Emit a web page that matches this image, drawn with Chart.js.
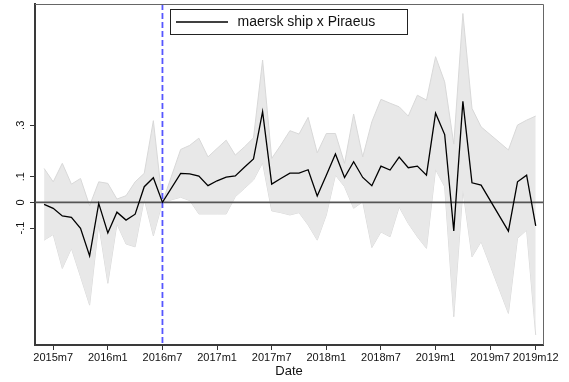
<!DOCTYPE html>
<html lang="en">

<head>
  <meta charset="UTF-8">
  <title>maersk ship x Piraeus</title>
  <script src="https://cdn.jsdelivr.net/npm/chart.js"></script>
  <style>
    * {
      margin: 0;
      padding: 0;
      box-sizing: border-box;
    }

    body {
      background: #fff;
    }

    canvas {
      display: block;
    }
  </style>
</head>

<body>
  <canvas id="eventChart" width="569" height="382"></canvas>

  <script>
    // Monthly coefficients with 95% CI (2016m7 is the reference month)
    const months = [
      '2015m6', '2015m7', '2015m8', '2015m9', '2015m10', '2015m11', '2015m12',
      '2016m1', '2016m2', '2016m3', '2016m4', '2016m5', '2016m6', '2016m7',
      '2016m9', '2016m10', '2016m11', '2016m12',
      '2017m1', '2017m2', '2017m3', '2017m4', '2017m5', '2017m6', '2017m7',
      '2017m8', '2017m9', '2017m10', '2017m11', '2017m12',
      '2018m1', '2018m2', '2018m3', '2018m4', '2018m5', '2018m6', '2018m7',
      '2018m8', '2018m9', '2018m10', '2018m11', '2018m12',
      '2019m1', '2019m2', '2019m3', '2019m4', '2019m5', '2019m6',
      '2019m9', '2019m10', '2019m11', '2019m12'
    ];
    const coef = [
      -0.008, -0.023, -0.053, -0.058, -0.101, -0.208, -0.004,
      -0.119, -0.038, -0.069, -0.046, 0.061, 0.096, 0,
      0.113, 0.111, 0.102, 0.065,
      0.084, 0.098, 0.103, 0.137, 0.169, 0.353, 0.071,
      0.093, 0.114, 0.114, 0.127, 0.025,
      0.106, 0.188, 0.097, 0.158, 0.097, 0.065, 0.141,
      0.126, 0.176, 0.135, 0.141, 0.106,
      0.347, 0.264, -0.111, 0.393, 0.076, 0.067,
      -0.112, 0.080, 0.106, -0.091
    ];
    const ciHigh = [
      0.132, 0.080, 0.152, 0.071, 0.093, -0.013, 0.080,
      0.074, 0.013, 0.026, 0.080, 0.113, 0.318, 0,
      0.206, 0.222, 0.250, 0.177,
      0.210, 0.242, 0.184, 0.216, 0.251, 0.554, 0.171,
      0.223, 0.279, 0.266, 0.331, 0.193,
      0.268, 0.268, 0.152, 0.344, 0.177, 0.314, 0.401,
      0.386, 0.372, 0.336, 0.417, 0.398,
      0.567, 0.469, 0.227, 0.735, 0.366, 0.294,
      0.204, 0.301, 0.320, 0.336
    ];
    const ciLow = [
      -0.147, -0.125, -0.257, -0.179, -0.289, -0.400, -0.084,
      -0.315, -0.084, -0.162, -0.173, 0.013, -0.130, 0,
      0.020, 0.007, -0.045, -0.045,
      -0.045, -0.045, 0.022, 0.054, 0.087, 0.154, -0.033,
      -0.040, -0.049, -0.040, -0.088, -0.147,
      -0.049, 0.106, 0.061, -0.023, 0.002, -0.176, -0.115,
      -0.134, -0.018, -0.082, -0.134, -0.179,
      0.128, 0.061, -0.445, 0.048, -0.212, -0.153,
      -0.432, -0.140, -0.108, -0.516
    ];
    const tickLabels = ['2015m7', '2016m1', '2016m7', '2017m1', '2017m7', '2018m1',
      '2018m7', '2019m1', '2019m7', '2019m12'];
    const yTicks = [-0.1, 0, 0.1, 0.3];
    const yTickLabels = ['-.1', '0', '.1', '.3'];
    const eventMonth = '2016m7';

    // months since 2015m1
    function monthIndex(label) {
      const [y, m] = label.split('m').map(Number);
      return (y - 2015) * 12 + (m - 1);
    }

    const xs = months.map(monthIndex);
    const toPoints = arr => arr.map((v, i) => ({ x: xs[i], y: v }));

    const FONT = "'Liberation Sans', Arial, sans-serif";

    // zero line, event line, frame, rotated y labels and legend box
    const decorations = {
      id: 'decorations',
      beforeDatasetDraw(chart, args) {
        if (args.index !== 0) return;
        const { ctx, chartArea, scales } = chart;
        const y0 = scales.y.getPixelForValue(0);
        ctx.save();
        ctx.strokeStyle = '#555';
        ctx.lineWidth = 1.6;
        ctx.beginPath();
        ctx.moveTo(chartArea.left, y0);
        ctx.lineTo(chartArea.right, y0);
        ctx.stroke();

        const xe = scales.x.getPixelForValue(monthIndex(eventMonth));
        ctx.strokeStyle = '#5656ff';
        ctx.lineWidth = 1.8;
        ctx.setLineDash([6, 3]);
        ctx.beginPath();
        ctx.moveTo(xe, chartArea.top);
        ctx.lineTo(xe, chartArea.bottom);
        ctx.stroke();
        ctx.restore();
      },
      afterDraw(chart) {
        const { ctx, chartArea, scales } = chart;
        ctx.save();
        // top and right outline of the plot region
        ctx.strokeStyle = '#666';
        ctx.lineWidth = 1;
        ctx.beginPath();
        ctx.moveTo(chartArea.left, chartArea.top + 0.5);
        ctx.lineTo(chartArea.right + 0.5, chartArea.top + 0.5);
        ctx.lineTo(chartArea.right + 0.5, chartArea.bottom);
        ctx.stroke();

        // y tick labels, rotated like Stata
        ctx.fillStyle = '#111';
        ctx.font = '11px ' + FONT;
        ctx.textAlign = 'center';
        ctx.textBaseline = 'middle';
        yTicks.forEach((v, i) => {
          const y = scales.y.getPixelForValue(v);
          ctx.save();
          ctx.translate(20.5, y);
          ctx.rotate(-Math.PI / 2);
          ctx.fillText(yTickLabels[i], 0, 0);
          ctx.restore();
        });

        // legend
        ctx.fillStyle = '#fff';
        ctx.fillRect(171, 9, 237, 25);
        ctx.strokeStyle = '#222';
        ctx.lineWidth = 1;
        ctx.strokeRect(170.5, 9.5, 237, 25);
        ctx.strokeStyle = '#000';
        ctx.lineWidth = 1.3;
        ctx.beginPath();
        ctx.moveTo(176, 22);
        ctx.lineTo(228, 22);
        ctx.stroke();
        ctx.fillStyle = '#111';
        ctx.font = '14px ' + FONT;
        ctx.textAlign = 'left';
        ctx.fillText(chart.data.datasets[0].label, 237.5, 22.5);
        ctx.restore();
      }
    };

    const ctx = document.getElementById('eventChart').getContext('2d');
    new Chart(ctx, {
      type: 'line',
      data: {
        datasets: [{
            label: 'maersk ship x Piraeus',
            data: toPoints(coef),
            borderColor: '#000',
            borderWidth: 1.3,
            pointRadius: 0,
            tension: 0,
            fill: false,
          },
          {
            label: 'upper',
            data: toPoints(ciHigh),
            borderColor: '#d8d8d8',
            borderWidth: 1,
            backgroundColor: '#e8e8e8',
            pointRadius: 0,
            tension: 0,
            fill: '+1',
          },
          {
            label: 'lower',
            data: toPoints(ciLow),
            borderColor: '#d8d8d8',
            borderWidth: 1,
            pointRadius: 0,
            tension: 0,
            fill: false,
          },
        ],
      },
      options: {
        responsive: false,
        animation: false,
        events: [],
        layout: {
          padding: { top: 4, right: 26, left: 0, bottom: 0 },
        },
        plugins: {
          legend: { display: false },
          tooltip: { enabled: false },
        },
        scales: {
          x: {
            type: 'linear',
            min: 4,
            max: 59.8,
            afterBuildTicks: scale => {
              scale.ticks = tickLabels.map(l => ({ value: monthIndex(l) }));
            },
            afterFit: scale => {
              scale.height = 37;
            },
            ticks: {
              autoSkip: false,
              maxRotation: 0,
              minRotation: 0,
              padding: 1,
              color: '#111',
              font: { family: FONT, size: 11 },
              callback: value => tickLabels[tickLabels.map(monthIndex).indexOf(value)],
            },
            grid: {
              drawOnChartArea: false,
              drawTicks: true,
              tickLength: 5,
              color: '#333',
              lineWidth: 1,
            },
            border: { display: true, color: '#3a3a3a', width: 2 },
            title: {
              display: true,
              text: 'Date',
              color: '#111',
              font: { family: FONT, size: 13 },
              padding: { top: 0, bottom: 3 },
            },
          },
          y: {
            min: -0.555,
            max: 0.772,
            afterBuildTicks: scale => {
              scale.ticks = yTicks.map(v => ({ value: v }));
            },
            afterFit: scale => {
              scale.width = 35;
            },
            ticks: { display: false },
            grid: {
              drawOnChartArea: false,
              drawTicks: true,
              tickLength: 5,
              color: '#333',
              lineWidth: 1,
            },
            border: { display: true, color: '#3a3a3a', width: 2 },
          },
        },
      },
      plugins: [decorations],
    });
  </script>

</body>

</html>
